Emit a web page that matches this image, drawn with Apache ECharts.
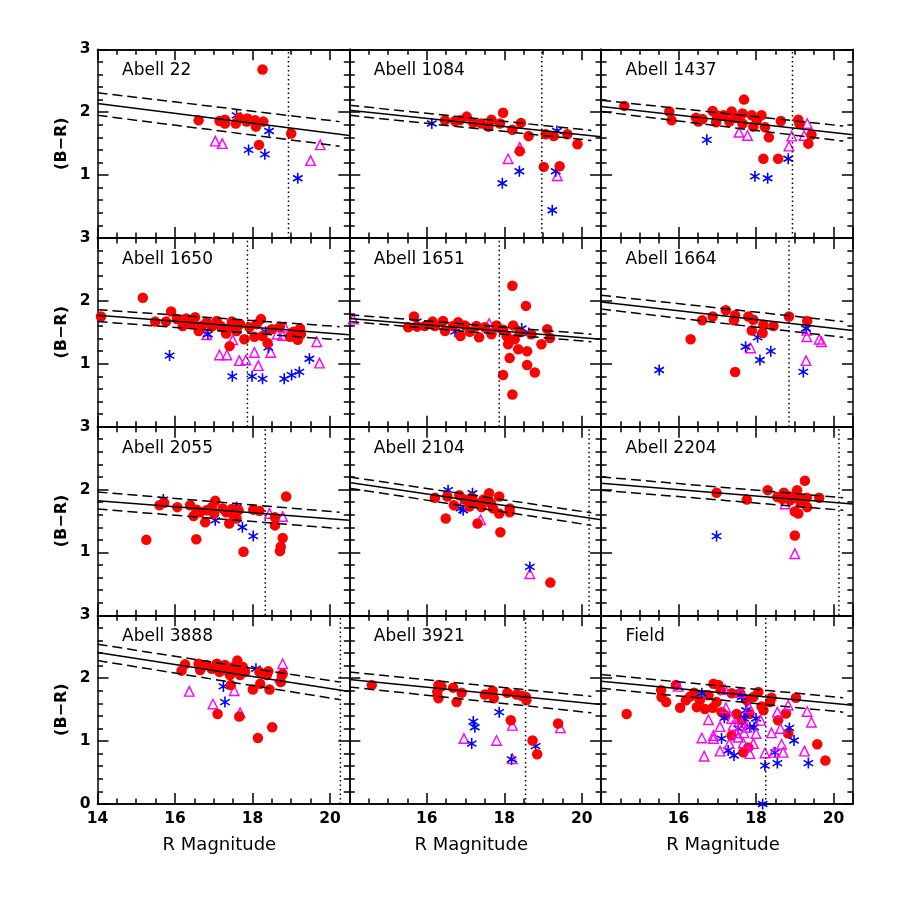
<!DOCTYPE html>
<html><head><meta charset="utf-8">
<script src="https://cdn.jsdelivr.net/npm/echarts@6/dist/echarts.min.js"></script>
<style>html,body{margin:0;padding:0;background:#fff}#chart{width:900px;height:900px}</style>
</head><body><div id="chart"></div>
<script>
// ---------------- DATA ----------------
const panelNames = ['Abell 22','Abell 1084','Abell 1437','Abell 1650','Abell 1651','Abell 1664',
                    'Abell 2055','Abell 2104','Abell 2204','Abell 3888','Abell 3921','Field'];
const xTicks = [14, 16, 18, 20];
const yTicks = [0, 1, 2, 3];
// colour-magnitude relation: colour at R=14 and at R=20.5
const solidLine = [[2.14,1.63],[2.03,1.61],[2.09,1.64],[1.77,1.46],[1.72,1.39],[1.98,1.53],
                   [1.82,1.51],[2.11,1.52],[2.10,1.77],[2.41,1.79],[1.98,1.58],[1.95,1.57]];
// dashed envelopes: colour at R=14 and at R=20.25
const upperLine = [[2.31,1.85],[2.11,1.71],[2.19,1.78],[1.86,1.59],[1.78,1.47],[2.09,1.67],
                   [1.96,1.64],[2.20,1.63],[2.20,1.87],[2.54,1.94],[2.10,1.71],[2.06,1.69]];
const lowerLine = [[1.95,1.46],[1.95,1.55],[2.01,1.54],[1.67,1.38],[1.67,1.35],[1.87,1.42],
                   [1.69,1.38],[2.02,1.43],[1.99,1.67],[2.28,1.66],[1.86,1.45],[1.84,1.46]];
const dashEnd = 20.25;
// magnitude limits (dotted verticals)
const magLimit = [18.93,18.97,18.94,17.87,17.87,18.85,18.33,20.19,20.14,20.27,18.55,18.25];

const a22Red = [[16.61,1.87],[17.15,1.86],[17.29,1.88],[17.29,1.82],[17.57,1.82],[17.66,1.91],[17.87,1.90],[17.85,1.85],[18.07,1.87],[18.09,1.77],[18.28,1.85],[18.26,2.68],[18.17,1.48],[19.0,1.66]];
const a22Blue = [[17.59,1.95],[17.90,1.40],[18.32,1.33],[18.43,1.70],[19.17,0.95]];
const a22Mag = [[17.04,1.54],[17.22,1.50],[19.50,1.23],[19.75,1.48]];

const a1084Red = [[16.47,1.87],[16.73,1.86],[16.85,1.87],[17.03,1.93],[17.2,1.83],[17.41,1.82],[17.59,1.77],[17.67,1.88],[17.89,1.82],[17.97,1.99],[18.21,1.72],[18.43,1.83],[18.63,1.62],[18.40,1.38],[19.02,1.13],[19.07,1.65],[19.28,1.62],[19.43,1.14],[19.63,1.65],[19.89,1.49]];
const a1084Blue = [[16.13,1.82],[17.95,0.87],[18.39,1.06],[19.33,1.06],[19.36,1.70],[19.24,0.44]];
const a1084Mag = [[18.10,1.26],[19.37,0.99],[18.40,1.44]];

const a1437Red = [[14.60,2.10],[15.76,2.01],[15.82,1.87],[16.45,1.91],[16.51,1.85],[16.62,1.89],[16.88,2.02],[16.98,1.95],[16.97,1.84],[17.16,1.95],[17.31,1.85],[17.37,2.01],[17.50,1.91],[17.69,2.20],[17.65,1.98],[17.65,1.82],[17.89,1.95],[17.93,1.77],[18.14,1.95],[18.02,1.87],[18.23,1.76],[18.33,1.60],[18.64,1.86],[18.19,1.26],[18.57,1.26],[19.09,1.88],[19.12,1.82],[19.43,1.64],[19.35,1.50]];
const a1437Blue = [[16.73,1.56],[17.97,0.98],[18.30,0.95],[18.83,1.26]];
const a1437Mag = [[17.56,1.68],[17.78,1.63],[18.85,1.46],[18.92,1.62],[19.24,1.63],[19.32,1.82]];

const a1650Red = [[14.09,1.75],[15.17,2.05],[15.49,1.67],[15.77,1.67],[15.90,1.83],[16.05,1.71],[16.2,1.60],[16.29,1.72],[16.43,1.63],[16.52,1.74],[16.61,1.52],[16.69,1.60],[16.82,1.66],[16.95,1.59],[17.08,1.68],[17.18,1.60],[17.32,1.48],[17.38,1.56],[17.47,1.67],[17.41,1.28],[17.59,1.52],[17.68,1.63],[17.79,1.39],[17.92,1.58],[18.05,1.43],[18.11,1.63],[18.22,1.71],[18.26,1.44],[18.39,1.33],[18.50,1.55],[18.71,1.59],[18.97,1.43],[19.06,1.51],[19.17,1.38],[19.23,1.56],[19.25,1.47]];
const a1650Blue = [[15.86,1.13],[16.85,1.47],[17.48,0.80],[17.99,0.80],[18.26,0.76],[18.34,1.51],[18.41,1.26],[18.82,0.76],[19.01,0.82],[19.21,0.87],[19.47,1.08]];
const a1650Mag = [[16.82,1.46],[17.15,1.14],[17.34,1.14],[17.49,1.38],[17.66,1.05],[17.83,1.06],[18.05,1.18],[18.15,0.97],[18.47,1.18],[18.64,1.47],[18.78,1.45],[18.84,1.58],[19.66,1.35],[19.73,1.01]];

const a1651Red = [[15.52,1.58],[15.67,1.75],[15.75,1.59],[15.95,1.60],[16.15,1.67],[16.21,1.60],[16.42,1.68],[16.47,1.52],[16.68,1.60],[16.81,1.66],[16.87,1.44],[16.98,1.61],[17.11,1.51],[17.28,1.60],[17.35,1.42],[17.50,1.58],[17.67,1.47],[17.80,1.61],[17.97,1.54],[17.97,0.82],[18.06,1.44],[18.10,1.31],[18.14,1.09],[18.21,2.24],[18.21,0.51],[18.23,1.61],[18.27,1.39],[18.36,1.23],[18.40,1.50],[18.56,1.92],[18.59,1.20],[18.59,0.98],[18.70,1.47],[18.79,0.86],[18.96,1.31],[19.11,1.55],[19.18,1.41]];
const a1651Blue = [[15.74,1.67],[16.73,1.51],[18.45,1.56],[18.63,1.49]];
const a1651Mag = [[14.10,1.71],[17.61,1.64],[17.84,1.58]];

const a1664Red = [[16.31,1.39],[16.61,1.69],[16.88,1.75],[17.22,1.85],[17.46,1.77],[17.43,1.69],[17.46,0.87],[17.80,1.75],[17.93,1.70],[17.89,1.53],[18.19,1.62],[18.17,1.49],[18.45,1.60],[18.85,1.75],[19.32,1.68]];
const a1664Blue = [[15.50,0.90],[17.73,1.27],[18.04,1.42],[18.10,1.06],[18.38,1.20],[19.22,0.87],[19.29,1.56]];
const a1664Mag = [[17.86,1.25],[19.31,1.53],[19.31,1.43],[19.63,1.39],[19.69,1.35],[19.29,1.05]];

const a2055Red = [[15.26,1.20],[15.60,1.75],[15.72,1.79],[16.06,1.72],[16.39,1.75],[16.48,1.58],[16.55,1.21],[16.56,1.68],[16.65,1.64],[16.78,1.48],[16.82,1.67],[16.95,1.72],[17.04,1.82],[17.01,1.62],[17.23,1.70],[17.32,1.64],[17.40,1.46],[17.47,1.69],[17.53,1.57],[17.64,1.67],[17.59,1.54],[17.77,1.01],[18.02,1.68],[18.18,1.66],[18.58,1.56],[18.58,1.43],[18.78,1.23],[18.73,1.09],[18.71,1.02],[18.87,1.89]];
const a2055Blue = [[15.70,1.84],[17.04,1.51],[17.74,1.40],[18.02,1.26],[17.59,1.71]];
const a2055Mag = [[18.44,1.62],[18.78,1.57],[17.59,1.72]];

const a2104Red = [[16.21,1.87],[16.49,1.54],[16.53,1.89],[16.70,1.75],[16.84,1.91],[16.98,1.84],[17.10,1.73],[17.16,1.87],[17.24,1.79],[17.31,1.46],[17.41,1.72],[17.46,1.84],[17.61,1.94],[17.65,1.79],[17.71,1.70],[17.87,1.89],[17.87,1.62],[17.90,1.32],[18.14,1.70],[18.14,1.64],[19.19,0.52]];
const a2104Blue = [[16.55,1.99],[16.87,1.70],[16.94,1.67],[17.18,1.94],[18.66,0.77]];
const a2104Mag = [[17.39,1.52],[18.66,0.66]];

const a2204Red = [[16.98,1.95],[17.76,1.84],[18.30,1.99],[18.55,1.88],[18.72,1.95],[18.68,1.85],[18.88,1.89],[18.88,1.83],[18.98,1.87],[19.06,1.99],[19.09,1.88],[19.15,1.79],[19.00,1.65],[19.09,1.62],[19.26,2.14],[19.31,1.87],[19.32,1.72],[19.63,1.87],[19.00,1.27]];
const a2204Blue = [[16.98,1.26],[19.13,1.87]];
const a2204Mag = [[18.75,1.77],[19.00,0.98]];

const a3888Red = [[16.26,2.22],[16.17,2.12],[16.61,2.23],[16.65,2.13],[16.82,2.21],[16.95,2.15],[17.08,2.23],[17.15,2.10],[17.29,2.21],[17.34,2.13],[17.42,2.05],[17.44,1.89],[17.51,2.18],[17.60,2.13],[17.61,2.28],[17.68,2.05],[17.75,2.18],[17.81,2.10],[18.01,1.82],[18.18,2.10],[18.20,1.91],[18.37,2.05],[18.41,2.11],[18.44,1.82],[18.73,1.94],[18.76,2.05],[18.78,2.07],[17.10,1.43],[17.66,1.39],[18.14,1.05],[18.51,1.22]];
const a3888Blue = [[17.25,1.87],[17.29,1.62],[18.09,2.15]];
const a3888Mag = [[16.37,1.79],[16.98,1.59],[17.53,1.80],[17.68,1.45],[18.78,2.23],[18.71,2.01]];

const a3921Red = [[14.58,1.89],[16.30,1.89],[16.27,1.78],[16.30,1.68],[16.38,1.87],[16.68,1.85],[16.90,1.77],[16.77,1.62],[17.50,1.74],[17.70,1.80],[17.73,1.68],[18.08,1.77],[18.32,1.74],[18.45,1.72],[18.56,1.70],[18.57,1.65],[18.17,1.33],[18.73,1.01],[18.85,0.79],[19.39,1.28]];
const a3921Blue = [[17.20,1.31],[17.24,1.22],[17.16,0.96],[17.87,1.46],[18.19,0.71],[18.81,0.92]];
const a3921Mag = [[16.96,1.04],[17.80,1.01],[18.21,1.25],[18.21,0.72],[19.45,1.21]];

const fieldRed = [[14.66,1.43],[15.55,1.81],[15.56,1.70],[15.68,1.62],[15.93,1.89],[16.04,1.53],[16.19,1.65],[16.30,1.71],[16.40,1.77],[16.47,1.54],[16.55,1.65],[16.68,1.51],[16.77,1.73],[16.88,1.53],[16.90,1.91],[17.03,1.89],[16.98,1.62],[17.11,1.46],[17.09,1.81],[17.20,1.41],[17.37,1.76],[17.37,1.09],[17.50,1.43],[17.59,1.76],[17.63,1.33],[17.67,0.82],[17.76,1.65],[17.80,0.90],[17.83,1.43],[17.93,1.70],[18.06,1.78],[18.14,1.55],[18.19,1.49],[18.40,1.69],[18.36,1.62],[18.57,1.33],[18.77,1.44],[18.83,1.12],[19.03,1.69],[19.58,0.95],[19.79,0.69]];
const fieldBlue = [[16.60,1.76],[17.18,1.37],[17.11,1.04],[17.28,0.85],[17.43,0.77],[17.54,1.20],[17.63,1.70],[17.69,1.36],[17.74,1.49],[17.84,1.22],[17.95,1.22],[18.00,1.36],[18.23,0.61],[18.17,0.0],[18.49,0.82],[18.55,0.65],[18.86,1.21],[18.98,1.01],[19.35,0.65]];
const fieldMag = [[15.99,1.87],[16.60,1.05],[16.66,0.76],[16.77,1.34],[16.90,1.09],[16.90,1.04],[17.07,1.23],[17.07,0.84],[17.20,1.82],[17.22,1.53],[17.31,0.96],[17.37,1.36],[17.41,1.25],[17.50,1.13],[17.54,1.06],[17.59,1.77],[17.63,1.29],[17.67,0.97],[17.69,1.13],[17.76,1.22],[17.83,1.53],[17.84,0.80],[17.93,0.96],[18.00,1.12],[18.12,1.33],[18.23,0.81],[18.40,1.13],[18.46,0.82],[18.55,1.46],[18.63,1.20],[18.66,0.95],[18.70,0.82],[18.83,1.57],[19.25,0.84],[19.32,1.47],[19.43,1.30]];

const redSets  = [a22Red,a1084Red,a1437Red,a1650Red,a1651Red,a1664Red,a2055Red,a2104Red,a2204Red,a3888Red,a3921Red,fieldRed];
const blueSets = [a22Blue,a1084Blue,a1437Blue,a1650Blue,a1651Blue,a1664Blue,a2055Blue,a2104Blue,a2204Blue,a3888Blue,a3921Blue,fieldBlue];
const magSets  = [a22Mag,a1084Mag,a1437Mag,a1650Mag,a1651Mag,a1664Mag,a2055Mag,a2104Mag,a2204Mag,a3888Mag,a3921Mag,fieldMag];

// ---------------- CHART ----------------
const X_MIN = 14, X_MAX = 20.5, Y_MIN = 0, Y_MAX = 3;
const GL = 97.5, GT = 49.3, GW = 251.8, GH = 188.67;
const FONT = 'DejaVu Sans';
const starPath = 'path://M5 0 L5 10 M0.67 2.5 L9.33 7.5 M0.67 7.5 L9.33 2.5';

const grids = [], xAxes = [], yAxes = [], series = [], graphics = [];
const axLine = {show: true, onZero: false, lineStyle: {color: '#000', width: 1.5}};
const tickStyle = {color: '#000', width: 1.5};

panelNames.forEach((name, i) => {
  const r = Math.floor(i / 3), c = i % 3;
  const left = GL + GW * c, top = GT + GH * r;
  grids.push({left: left, top: top, width: GW, height: GH});
  const xb = xAxes.length, yb = yAxes.length;
  const xc = {type: 'value', gridIndex: i, min: X_MIN, max: X_MAX, splitLine: {show: false}, axisLine: axLine};
  xAxes.push(Object.assign({}, xc, {position: 'bottom', interval: 2,
    axisTick: {show: true, inside: true, length: 11, lineStyle: tickStyle},
    axisLabel: {show: r === 3, margin: 7, fontFamily: FONT, fontWeight: 'bold', fontSize: 15.5, color: '#000',
      formatter: v => (xTicks.indexOf(v) >= 0 && !(c > 0 && v === 14)) ? String(v) : ''}}));
  xAxes.push(Object.assign({}, xc, {position: 'bottom', interval: 0.5,
    axisTick: {show: true, inside: true, length: 5.5, lineStyle: tickStyle}, axisLabel: {show: false}}));
  xAxes.push(Object.assign({}, xc, {position: 'top', interval: 2,
    axisTick: {show: true, inside: true, length: 11, lineStyle: tickStyle}, axisLabel: {show: false}}));
  xAxes.push(Object.assign({}, xc, {position: 'top', interval: 0.5,
    axisTick: {show: true, inside: true, length: 5.5, lineStyle: tickStyle}, axisLabel: {show: false}}));
  const yc = {type: 'value', gridIndex: i, min: Y_MIN, max: Y_MAX, interval: 1, splitLine: {show: false},
    axisLine: axLine, axisTick: {show: true, inside: true, length: 11, lineStyle: tickStyle},
    minorTick: {show: true, splitNumber: 5, length: 5.5, lineStyle: tickStyle}, minorSplitLine: {show: false}};
  yAxes.push(Object.assign({}, yc, {position: 'left',
    axisLabel: {show: c === 0, margin: 7, fontFamily: FONT, fontWeight: 'bold', fontSize: 15.5, color: '#000',
      formatter: v => (yTicks.indexOf(v) >= 0 && !(r < 3 && v === 0)) ? String(v) : ''}}));
  yAxes.push(Object.assign({}, yc, {position: 'right', axisLabel: {show: false}}));

  const base = {xAxisIndex: xb, yAxisIndex: yb, animation: false, silent: true};
  series.push(Object.assign({}, base, {type: 'line', symbol: 'none', clip: true,
    data: [[X_MIN, solidLine[i][0]], [X_MAX, solidLine[i][1]]], lineStyle: {color: '#000', width: 1.5}}));
  series.push(Object.assign({}, base, {type: 'line', symbol: 'none', clip: true,
    data: [[X_MIN, upperLine[i][0]], [dashEnd, upperLine[i][1]]], lineStyle: {color: '#000', width: 1.5, type: [10, 5]}}));
  series.push(Object.assign({}, base, {type: 'line', symbol: 'none', clip: true,
    data: [[X_MIN, lowerLine[i][0]], [dashEnd, lowerLine[i][1]]], lineStyle: {color: '#000', width: 1.5, type: [10, 5]}}));
  series.push(Object.assign({}, base, {type: 'line', symbol: 'none', clip: true,
    data: [[magLimit[i], Y_MIN], [magLimit[i], Y_MAX]], lineStyle: {color: '#000', width: 1.5, type: [1.5, 3]}}));

  const redS = Object.assign({}, base, {type: 'scatter', symbol: 'circle', symbolSize: 10.5, data: redSets[i],
    itemStyle: {color: '#ff0000', opacity: 1}});
  const blueS = Object.assign({}, base, {type: 'scatter', symbol: starPath, symbolSize: 11, symbolKeepAspect: true, data: blueSets[i],
    itemStyle: {color: 'rgba(0,0,0,0)', borderColor: '#0000ff', borderWidth: 1.6, opacity: 1}});
  const magS = Object.assign({}, base, {type: 'scatter', symbol: 'triangle', symbolSize: 9.5, data: magSets[i],
    itemStyle: {color: 'rgba(0,0,0,0)', borderColor: '#ff00ff', borderWidth: 1.4, opacity: 1}});
  if (i === 11) series.push(redS, blueS, magS); else series.push(magS, blueS, redS);

  graphics.push({type: 'text', x: left + 24.5, y: top + 21.5, silent: true,
    style: {text: name, fontFamily: FONT, fontSize: 17, fill: '#000', align: 'left', verticalAlign: 'middle'}});
  if (c === 0) {
    graphics.push({type: 'text', x: 62, y: top + GH / 2, rotation: Math.PI / 2, silent: true,
      style: {text: '(B\u2212R)', fontFamily: FONT, fontSize: 16, fontWeight: 'bold', fill: '#000', align: 'center', verticalAlign: 'middle'}});
  }
  if (r === 3) {
    graphics.push({type: 'text', x: left + GW / 2 - 4, y: 845.5, silent: true,
      style: {text: 'R Magnitude', fontFamily: FONT, fontSize: 18, fill: '#000', align: 'center', verticalAlign: 'middle'}});
  }
});

const chart = echarts.init(document.getElementById('chart'), null, {renderer: 'canvas', width: 900, height: 900});
chart.setOption({
  backgroundColor: '#ffffff',
  animation: false,
  grid: grids, xAxis: xAxes, yAxis: yAxes, series: series, graphic: graphics
});
</script></body></html>
